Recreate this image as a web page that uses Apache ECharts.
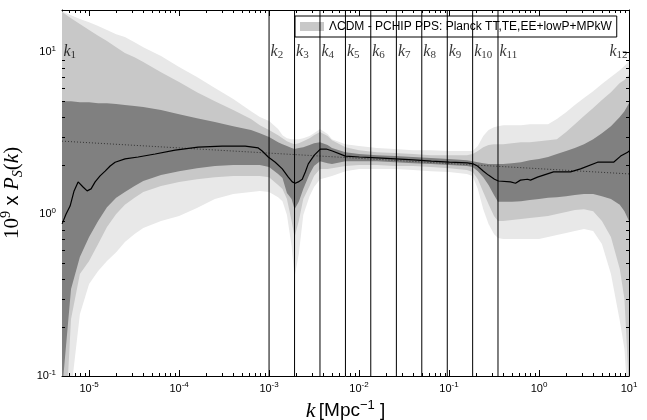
<!DOCTYPE html>
<html><head><meta charset="utf-8">
<script src="https://cdn.jsdelivr.net/npm/echarts@6/dist/echarts.min.js"></script>
<style>html,body{margin:0;padding:0;background:#fff}#c{width:647px;height:420px}</style>
</head><body><div id="c"></div>
<script>
// ---- data (k in Mpc^-1, values are 10^9 x P_S(k)) ----
const kGrid = [5.0e-6, 6.3e-6, 7.9e-6, 1.0e-5, 1.26e-5, 1.58e-5, 2.0e-5, 2.5e-5, 3.2e-5, 4.0e-5, 6.3e-5, 1.0e-4, 1.58e-4, 2.5e-4, 4.0e-4, 6.3e-4, 7.9e-4, 1.0e-3, 1.26e-3, 1.41e-3, 1.58e-3, 1.78e-3, 1.92e-3, 2.14e-3, 2.4e-3, 2.82e-3, 3.16e-3, 3.68e-3, 4.47e-3, 5.0e-3, 7.06e-3, 1.0e-2, 1.58e-2, 2.5e-2, 4.0e-2, 6.3e-2, 0.1, 0.158, 0.183, 0.209, 0.24, 0.275, 0.316, 0.35, 0.4, 0.5, 0.63, 0.79, 1.0, 1.26, 1.58, 2.0, 2.5, 3.16, 4.0, 5.0, 6.3, 7.9, 8.9, 10];
const upper3 = [17.9, 16.9, 16.0, 15.3, 14.5, 13.7, 12.9, 12.4, 11.5, 10.7, 9.45, 8.08, 7.01, 6.00, 5.13, 4.32, 3.97, 3.75, 3.35, 3.07, 2.94, 2.90, 2.90, 2.90, 2.94, 3.03, 3.16, 3.35, 3.12, 2.90, 2.70, 2.63, 2.56, 2.52, 2.48, 2.48, 2.45, 2.45, 2.45, 2.63, 3.03, 3.30, 3.44, 3.49, 3.54, 3.54, 3.54, 3.59, 3.59, 3.59, 3.86, 4.26, 4.71, 5.20, 5.74, 6.35, 7.01, 7.74, 8.20, 8.80];
const upper2 = [17.7, 16.2, 14.9, 13.7, 12.6, 11.7, 10.7, 9.86, 9.31, 8.68, 7.52, 6.53, 5.66, 4.98, 4.39, 3.86, 3.54, 3.30, 3.07, 2.94, 2.82, 2.74, 2.70, 2.74, 2.82, 2.94, 3.07, 3.21, 3.03, 2.86, 2.59, 2.48, 2.41, 2.38, 2.35, 2.31, 2.31, 2.31, 2.35, 2.45, 2.59, 2.67, 2.70, 2.70, 2.70, 2.74, 2.78, 2.78, 2.82, 2.86, 2.90, 3.21, 3.59, 4.03, 4.51, 5.06, 5.66, 6.44, 6.72, 7.21];
const upper1 = [4.98, 4.98, 4.91, 4.91, 4.84, 4.84, 4.78, 4.71, 4.64, 4.58, 4.39, 4.14, 3.91, 3.70, 3.49, 3.30, 3.16, 2.99, 2.78, 2.70, 2.63, 2.56, 2.52, 2.56, 2.59, 2.67, 2.74, 2.78, 2.67, 2.56, 2.41, 2.35, 2.31, 2.28, 2.25, 2.22, 2.19, 2.15, 2.12, 2.09, 2.06, 2.04, 2.04, 2.04, 2.04, 2.06, 2.09, 2.15, 2.19, 2.25, 2.35, 2.45, 2.56, 2.70, 2.90, 3.16, 3.49, 3.97, 4.32, 4.84];
const lower1 = [0.08, 0.344, 0.543, 0.721, 0.905, 1.10, 1.26, 1.37, 1.49, 1.60, 1.74, 1.84, 1.92, 1.98, 2.01, 2.01, 2.01, 1.95, 1.77, 1.67, 1.35, 1.24, 1.07, 1.19, 1.43, 1.77, 1.98, 2.12, 2.06, 2.04, 2.12, 2.12, 2.12, 2.09, 2.06, 2.04, 2.01, 1.98, 1.95, 1.84, 1.69, 1.51, 1.31, 1.19, 1.19, 1.19, 1.20, 1.22, 1.24, 1.26, 1.27, 1.29, 1.31, 1.33, 1.33, 1.29, 1.24, 1.14, 1.04, 0.905];
const lower2 = [0.02, 0.225, 0.426, 0.513, 0.653, 0.831, 1.00, 1.14, 1.26, 1.37, 1.49, 1.58, 1.64, 1.69, 1.72, 1.72, 1.72, 1.69, 1.51, 1.43, 1.24, 0.905, 0.721, 0.905, 1.24, 1.49, 1.72, 1.90, 1.90, 1.92, 1.98, 2.01, 2.01, 1.98, 1.98, 1.95, 1.92, 1.87, 1.82, 1.64, 1.37, 1.15, 0.972, 0.905, 0.905, 0.918, 0.931, 0.945, 0.958, 0.972, 1.00, 1.03, 1.06, 1.07, 1.04, 0.905, 0.721, 0.458, 0.299, 0.083];
const lower3 = [0.02, 0.08, 0.241, 0.370, 0.445, 0.513, 0.582, 0.672, 0.752, 0.820, 0.905, 0.972, 1.09, 1.24, 1.33, 1.37, 1.39, 1.37, 1.27, 1.20, 0.986, 0.634, 0.408, 0.566, 0.986, 1.29, 1.47, 1.64, 1.69, 1.72, 1.84, 1.90, 1.90, 1.90, 1.87, 1.84, 1.82, 1.77, 1.72, 1.43, 1.07, 0.868, 0.752, 0.711, 0.701, 0.701, 0.701, 0.701, 0.701, 0.721, 0.742, 0.763, 0.785, 0.808, 0.785, 0.653, 0.426, 0.219, 0.147, 0.054];
const medianK = [5.01e-6, 5.55e-6, 6.15e-6, 6.81e-6, 7.55e-6, 8.57e-6, 9.51e-6, 1.052e-5, 1.167e-5, 1.324e-5, 1.507e-5, 1.714e-5, 1.945e-5, 2.51e-5, 3.51e-5, 5.42e-5, 9.06e-5, 1.63e-4, 3.01e-4, 5.43e-4, 7.59e-4, 8.39e-4, 9.79e-4, 1.172e-3, 1.403e-3, 1.637e-3, 1.811e-3, 1.954e-3, 2.113e-3, 2.339e-3, 2.529e-3, 2.729e-3, 3.184e-3, 3.715e-3, 4.325e-3, 5.05e-3, 7.05e-3, 1.007e-2, 1.596e-2, 2.535e-2, 4.02e-2, 6.37e-2, 0.1009, 0.160, 0.1866, 0.207, 0.2415, 0.274, 0.320, 0.354, 0.482, 0.548, 0.622, 0.745, 0.804, 0.962, 1.449, 2.239, 2.891, 4.477, 5.224, 6.745, 8.072, 9.66, 10];
const medianVal = [0.87, 1.0, 1.12, 1.39, 1.58, 1.47, 1.39, 1.43, 1.58, 1.72, 1.84, 1.98, 2.09, 2.19, 2.25, 2.35, 2.48, 2.59, 2.63, 2.63, 2.56, 2.45, 2.25, 2.09, 1.90, 1.69, 1.58, 1.55, 1.58, 1.64, 1.82, 2.04, 2.31, 2.52, 2.52, 2.45, 2.28, 2.25, 2.22, 2.19, 2.16, 2.12, 2.09, 2.07, 2.04, 1.98, 1.84, 1.74, 1.64, 1.60, 1.58, 1.55, 1.62, 1.64, 1.62, 1.69, 1.82, 1.82, 1.90, 2.09, 2.09, 2.09, 2.28, 2.41, 2.45];
const powerLawK = [5e-6, 10];
const powerLawVal = [2.82, 1.77];
const knotK = [1.0e-3, 1.92e-3, 3.68e-3, 7.06e-3, 1.35e-2, 2.6e-2, 4.98e-2, 9.56e-2, 0.183, 0.35];
const knotLabelK = [5e-6, 1.0e-3, 1.92e-3, 3.68e-3, 7.06e-3, 1.35e-2, 2.6e-2, 4.98e-2, 9.56e-2, 0.183, 0.35, 10];
const knotLabelNames = ['1','2','3','4','5','6','7','8','9','10','11','12'];
const knotLabelY = 10.1;
const legendName = 'ΛCDM - PCHIP PPS: Planck TT,TE,EE+lowP+MPkW';
const X_MIN = 5e-6, X_MAX = 10, Y_MIN = 0.1, Y_MAX = 18.2;

const SERIF = '"Liberation Serif","DejaVu Serif",serif';
const SANS = '"Liberation Sans",Arial,sans-serif';

function bandSeries(lo, hi, color, name) {
  return {
    type: 'custom', name: name, coordinateSystem: 'cartesian2d', silent: true, clip: true, z: 1,
    itemStyle: { color: color },
    data: kGrid.map((k, i) => [k, lo[i], hi[i]]),
    renderItem: function (params, api) {
      if (params.dataIndex !== 0) return null;
      const pts = [];
      for (let i = 0; i < kGrid.length; i++) pts.push(api.coord([kGrid[i], hi[i]]));
      for (let i = kGrid.length - 1; i >= 0; i--) pts.push(api.coord([kGrid[i], lo[i]]));
      const cs = params.coordSys;
      return {
        type: 'polygon', shape: { points: pts }, style: { fill: color, stroke: null },
        clipPath: { type: 'rect', shape: { x: cs.x, y: cs.y, width: cs.width, height: cs.height } }
      };
    }
  };
}

// minor tick positions (2..9 x decade)
const xMinor = [], yMinor = [];
for (let d = -6; d <= 1; d++) for (let m = 2; m <= 9; m++) {
  const v = m * Math.pow(10, d);
  if (v > X_MIN && v < X_MAX) xMinor.push(v);
  if (v > Y_MIN && v < Y_MAX) yMinor.push(v);
}
function minorTickSeries(vals, isX) {
  return {
    type: 'custom', coordinateSystem: 'cartesian2d', silent: true, z: 5,
    data: vals.map(v => isX ? [v, 1] : [1e-3, v]),
    renderItem: function (params, api) {
      const cs = params.coordSys;
      const p = api.coord(isX ? [vals[params.dataIndex], 1] : [1e-3, vals[params.dataIndex]]);
      const L = 3, st = { stroke: '#000', lineWidth: 1 };
      if (isX) {
        const x = Math.round(p[0]) + 0.5;
        return { type: 'group', children: [
          { type: 'line', shape: { x1: x, y1: cs.y + cs.height, x2: x, y2: cs.y + cs.height - L }, style: st },
          { type: 'line', shape: { x1: x, y1: cs.y, x2: x, y2: cs.y + L }, style: st }
        ]};
      } else {
        const y = Math.round(p[1]) + 0.5;
        return { type: 'group', children: [
          { type: 'line', shape: { x1: cs.x, y1: y, x2: cs.x + L, y2: y }, style: st },
          { type: 'line', shape: { x1: cs.x + cs.width, y1: y, x2: cs.x + cs.width - L, y2: y }, style: st }
        ]};
      }
    }
  };
}
// vertical knot lines
const knotLineSeries = {
  type: 'custom', coordinateSystem: 'cartesian2d', silent: true, z: 5,
  data: knotK.map(k => [k, 1]),
  renderItem: function (params, api) {
    const cs = params.coordSys;
    const p = api.coord([api.value(0), 1]);
    return { type: 'line', shape: { x1: p[0], y1: cs.y, x2: p[0], y2: cs.y + cs.height },
      style: { stroke: '#000', lineWidth: 1 } };
  }
};

function powLabel(v) {
  const l = Math.log10(v), e = Math.round(l);
  if (Math.abs(l - e) > 1e-6) return '';
  return '{n|10}{s|' + (e < 0 ? '-' + (-e) : e) + '}';
}
const tickRich = {
  n: { fontFamily: SANS, fontSize: 11, color: '#000', lineHeight: 15 },
  s: { fontFamily: SANS, fontSize: 8, color: '#000', lineHeight: 9, verticalAlign: 'top' }
};
const axLine = { show: true, onZero: false, lineStyle: { color: '#000', width: 1 } };
const axTick = { show: true, inside: true, length: 6, lineStyle: { color: '#000', width: 1 } };

const chart = echarts.init(document.getElementById('c'), null, { renderer: 'canvas' });
chart.setOption({
  animation: false,
  backgroundColor: '#fff',
  grid: { left: 62, right: 18, top: 10, bottom: 44, show: false, containLabel: false, outerBoundsMode: 'none' },
  legend: {
    show: true, left: 295, top: 16, orient: 'horizontal',
    data: [{ name: legendName, itemStyle: { color: '#c8c8c8' } }],
    icon: 'rect', itemWidth: 24, itemHeight: 9,
    backgroundColor: '#fff', borderColor: '#000', borderWidth: 1, borderRadius: 0,
    padding: [3, 5, 3, 5], selectedMode: false,
    textStyle: { fontFamily: SANS, fontSize: 12, color: '#000', lineHeight: 15 }
  },
  xAxis: [
    { type: 'log', logBase: 10, min: X_MIN, max: X_MAX, position: 'bottom',
      axisLine: axLine, axisTick: axTick, splitLine: { show: false },
      axisLabel: { formatter: powLabel, rich: tickRich, margin: 5, showMinLabel: true, showMaxLabel: true },
      name: '{it|k} {n|[Mpc}{s|−1}{n| ]}', nameLocation: 'middle', nameGap: 20,
      nameTextStyle: { rich: {
        it: { fontFamily: SERIF, fontStyle: 'italic', fontSize: 22, color: '#000', lineHeight: 24 },
        n: { fontFamily: SANS, fontSize: 19, color: '#000', lineHeight: 24 },
        s: { fontFamily: SANS, fontSize: 13, color: '#000', lineHeight: 14, verticalAlign: 'top' }
      } } },
    { type: 'log', logBase: 10, min: X_MIN, max: X_MAX, position: 'top',
      axisLine: axLine, axisTick: axTick, splitLine: { show: false }, axisLabel: { show: false } }
  ],
  yAxis: [
    { type: 'log', logBase: 10, min: Y_MIN, max: Y_MAX, position: 'left',
      axisLine: axLine, axisTick: axTick, splitLine: { show: false },
      axisLabel: { formatter: powLabel, rich: tickRich, margin: 6 },
      name: '{n|10}{s|9}{x| x }{it|P}{sub|S}{n|(}{it|k}{n|)}', nameLocation: 'middle', nameGap: 26, nameRotate: 90,
      nameTextStyle: { rich: {
        n: { fontFamily: SERIF, fontSize: 21, color: '#000', lineHeight: 26 },
        s: { fontFamily: SERIF, fontSize: 14, color: '#000', lineHeight: 14, verticalAlign: 'top' },
        x: { fontFamily: SANS, fontSize: 20, color: '#000', lineHeight: 26 },
        it: { fontFamily: SERIF, fontStyle: 'italic', fontSize: 21, color: '#000', lineHeight: 26 },
        sub: { fontFamily: SERIF, fontStyle: 'italic', fontSize: 14, color: '#000', lineHeight: 14, verticalAlign: 'bottom' }
      } } },
    { type: 'log', logBase: 10, min: Y_MIN, max: Y_MAX, position: 'right',
      axisLine: axLine, axisTick: axTick, splitLine: { show: false }, axisLabel: { show: false } }
  ],
  series: [
    bandSeries(lower3, upper3, '#e8e8e8', 'band3'),
    bandSeries(lower2, upper2, '#c8c8c8', legendName),
    bandSeries(lower1, upper1, '#808080', 'band1'),
    { type: 'line', name: 'powerlaw', data: powerLawK.map((k, i) => [k, powerLawVal[i]]),
      showSymbol: false, symbol: 'none', silent: true, z: 3,
      lineStyle: { color: '#333', width: 1, type: [1, 2] } },
    { type: 'line', name: 'median', data: medianK.map((k, i) => [k, medianVal[i]]),
      showSymbol: false, symbol: 'none', silent: true, z: 4, clip: true,
      lineStyle: { color: '#000', width: 1.2 } },
    knotLineSeries,
    { type: 'scatter', name: 'knots', silent: true, z: 6, symbolSize: 1,
      itemStyle: { color: 'transparent' },
      data: knotLabelK.map((k, i) => ({
        value: [k, knotLabelY],
        label: { show: true, position: i === knotLabelK.length - 1 ? 'left' : 'right', distance: 1,
          formatter: '{k|k}{i|' + knotLabelNames[i] + '}',
          rich: {
            k: { fontFamily: SERIF, fontStyle: 'italic', fontSize: 16, color: '#000', lineHeight: 18 },
            i: { fontFamily: SERIF, fontSize: 11, color: '#000', lineHeight: 11, verticalAlign: 'bottom' }
          } }
      })) },
    minorTickSeries(xMinor, true),
    minorTickSeries(yMinor, false)
  ]
});
</script></body></html>
